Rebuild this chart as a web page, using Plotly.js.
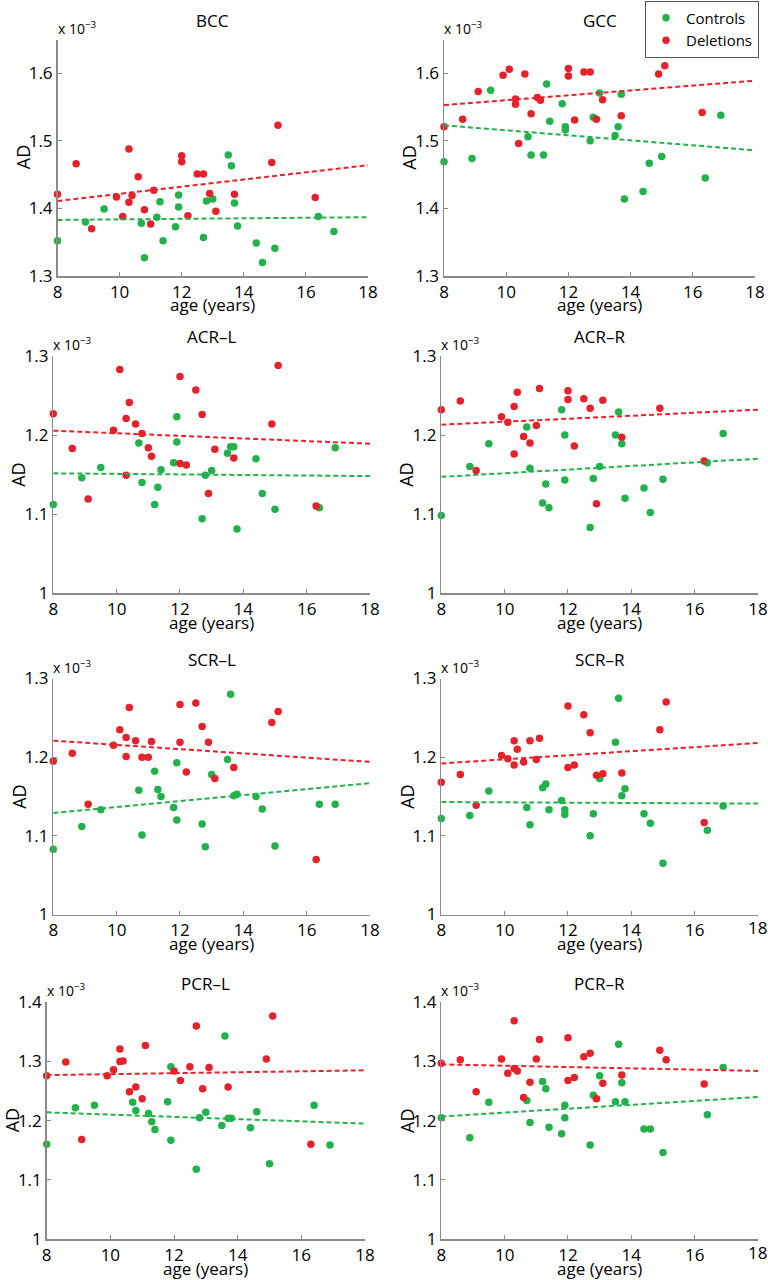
<!DOCTYPE html>
<html>
<head>
<meta charset="utf-8">
<script src="https://cdn.plot.ly/plotly-3.0.1.min.js"></script>
<style>
html,body{margin:0;padding:0;background:#ffffff;}
#chart{width:768px;height:1280px;}
</style>
</head>
<body>
<div id="chart"></div>
<script>
// ---------------- DATA (AD values in units of 10^-3) ----------------
const ctrlAge = [8.0, 8.9, 9.5, 10.7, 10.8, 11.2, 11.3, 11.4, 11.8, 11.9, 11.9, 12.7, 12.8, 13.0, 13.5, 13.6, 13.7, 13.8, 14.4, 14.6, 15.0, 16.4, 16.9];
const delAge  = [8.0, 8.6, 9.1, 9.9, 10.1, 10.3, 10.3, 10.4, 10.6, 10.8, 11.0, 11.1, 12.0, 12.0, 12.2, 12.5, 12.7, 12.9, 13.1, 13.7, 14.9, 15.1, 16.3];

const panelNames = ['BCC', 'GCC', 'ACR\u2013L', 'ACR\u2013R', 'SCR\u2013L', 'SCR\u2013R', 'PCR\u2013L', 'PCR\u2013R'];

const bccCtrl = [1.352, 1.380, 1.399, 1.378, 1.327, 1.387, 1.410, 1.352, 1.373, 1.420, 1.402, 1.357, 1.411, 1.414, 1.479, 1.463, 1.408, 1.374, 1.349, 1.320, 1.341, 1.388, 1.366];
const bccDel  = [1.421, 1.466, 1.370, 1.417, 1.388, 1.488, 1.409, 1.419, 1.447, 1.398, 1.377, 1.427, 1.478, 1.469, 1.389, 1.451, 1.451, 1.422, 1.396, 1.421, 1.468, 1.523, 1.416];

const gccCtrl = [1.469, 1.474, 1.575, 1.506, 1.479, 1.479, 1.584, 1.529, 1.555, 1.521, 1.516, 1.500, 1.535, 1.571, 1.508, 1.521, 1.569, 1.414, 1.425, 1.467, 1.477, 1.445, 1.538];
const gccDel  = [1.521, 1.532, 1.573, 1.597, 1.606, 1.562, 1.554, 1.496, 1.599, 1.540, 1.564, 1.560, 1.607, 1.596, 1.531, 1.602, 1.602, 1.532, 1.561, 1.537, 1.599, 1.611, 1.542];

const acrLCtrl = [1.112, 1.146, 1.159, 1.190, 1.140, 1.112, 1.134, 1.156, 1.165, 1.223, 1.191, 1.094, 1.149, 1.155, 1.177, 1.185, 1.185, 1.081, 1.170, 1.126, 1.106, 1.108, 1.184];
const acrLDel  = [1.227, 1.183, 1.119, 1.206, 1.283, 1.221, 1.149, 1.241, 1.214, 1.202, 1.184, 1.173, 1.274, 1.164, 1.162, 1.257, 1.226, 1.126, 1.182, 1.171, 1.214, 1.288, 1.110];

const acrRCtrl = [1.098, 1.160, 1.189, 1.210, 1.158, 1.114, 1.138, 1.108, 1.232, 1.200, 1.143, 1.083, 1.145, 1.160, 1.200, 1.229, 1.189, 1.120, 1.133, 1.102, 1.144, 1.165, 1.202];
const acrRDel  = [1.232, 1.243, 1.155, 1.223, 1.216, 1.236, 1.176, 1.254, 1.198, 1.190, 1.212, 1.259, 1.256, 1.245, 1.186, 1.246, 1.234, 1.113, 1.244, 1.197, 1.234, null, 1.167];

const scrLCtrl = [1.083, 1.112, 1.133, 1.158, 1.101, 1.182, 1.159, 1.150, 1.136, 1.193, 1.120, 1.115, 1.086, 1.178, 1.197, 1.280, 1.151, 1.153, 1.150, 1.134, 1.087, 1.140, 1.140];
const scrLDel  = [1.195, 1.205, 1.140, 1.215, 1.235, 1.225, 1.201, 1.263, 1.221, 1.200, 1.200, 1.220, 1.267, 1.219, 1.181, 1.269, 1.239, 1.219, 1.173, 1.187, 1.244, 1.258, 1.070];

const scrRCtrl = [1.122, 1.126, 1.157, 1.136, 1.114, 1.161, 1.166, 1.133, 1.145, 1.133, 1.127, 1.100, 1.128, 1.173, 1.219, 1.275, 1.151, 1.160, 1.128, 1.116, 1.065, 1.107, 1.138];
const scrRDel  = [1.168, 1.178, 1.139, 1.202, 1.198, 1.221, 1.190, 1.210, 1.194, 1.221, 1.197, 1.224, 1.265, 1.187, 1.190, 1.254, 1.231, 1.177, 1.179, 1.180, 1.235, 1.270, 1.117];

const pcrLCtrl = [1.160, 1.222, 1.226, 1.231, 1.217, 1.212, 1.198, 1.185, 1.232, 1.291, 1.167, 1.118, 1.205, 1.214, 1.192, 1.343, 1.204, 1.204, 1.188, 1.215, 1.127, 1.226, 1.159];
const pcrLDel  = [1.276, 1.299, 1.168, 1.276, 1.286, 1.321, 1.300, 1.301, 1.249, 1.257, 1.237, 1.327, 1.284, null, 1.268, 1.291, 1.360, 1.254, 1.290, 1.257, 1.304, 1.377, 1.160];

const pcrRCtrl = [1.205, 1.171, 1.231, 1.234, 1.197, 1.266, 1.254, 1.189, 1.178, 1.226, 1.205, 1.159, 1.243, 1.276, 1.232, 1.329, 1.264, 1.232, 1.186, 1.186, 1.146, 1.210, 1.290];
const pcrRDel  = [1.297, 1.303, 1.249, 1.304, 1.280, 1.369, 1.288, 1.284, 1.239, 1.265, 1.304, 1.337, 1.340, 1.268, 1.273, 1.308, 1.314, 1.237, 1.263, 1.277, 1.319, 1.303, 1.262];

// fitted trend lines, values at age 8 and age 18
const fitAges     = [8, 18];
const ctrlFitAt8  = [1.383, 1.523, 1.1515, 1.147, 1.129, 1.143, 1.214, 1.207];
const ctrlFitAt18 = [1.387, 1.486, 1.148, 1.170, 1.167, 1.141, 1.195, 1.240];
const delFitAt8   = [1.411, 1.553, 1.2055, 1.213, 1.221, 1.192, 1.277, 1.295];
const delFitAt18  = [1.464, 1.589, 1.189, 1.232, 1.194, 1.218, 1.285, 1.284];

const ctrlSeries = [bccCtrl, gccCtrl, acrLCtrl, acrRCtrl, scrLCtrl, scrRCtrl, pcrLCtrl, pcrRCtrl];
const delSeries  = [bccDel, gccDel, acrLDel, acrRDel, scrLDel, scrRDel, pcrLDel, pcrRDel];

const xTicks = [8, 10, 12, 14, 16, 18];
const yTicksA = [1.3, 1.4, 1.5, 1.6];
const yTicksB = [1, 1.1, 1.2, 1.3];
const yTicksC = [1, 1.1, 1.2, 1.3, 1.4];

// ---------------- LAYOUT / STYLE ----------------
const W = 768, H = 1280;
const GREEN = '#22b14c';
const RED = '#e5222b';
const AXIS = '#8a8a8a';
const FONT = 'Open Sans, Liberation Sans, sans-serif';

const yRanges = [[1.3,1.65],[1.3,1.65],[1,1.3],[1,1.3],[1,1.3],[1,1.3],[1,1.4],[1,1.4]];
const yTickSets = [yTicksA, yTicksA, yTicksB, yTicksB, yTicksB, yTicksB, yTicksC, yTicksC];
// pixel boxes [left, right, top, bottom]
const boxes = [
  [57.5, 368, 39.5, 276],
  [444, 755, 39.5, 276],
  [53.3, 370, 356, 593],
  [441.3, 758, 356, 593],
  [53.3, 370, 678.5, 914.5],
  [441.3, 758, 678.5, 914.5],
  [46.7, 365, 1002.3, 1239],
  [441.3, 758, 1002.3, 1239]
];
// panels whose last x tick label the renderer drops; that label is written as text at the axis end instead
const endLabelPanels = [5, 7];

const traces = [];
const layout = {
  width: W, height: H,
  margin: {l: 0, r: 0, t: 0, b: 0},
  paper_bgcolor: '#ffffff',
  plot_bgcolor: 'rgba(0,0,0,0)',
  font: {family: FONT, size: 16, color: '#000'},
  showlegend: true,
  legend: {
    x: 645 / W, y: 1 - 0.5 / H, xanchor: 'left', yanchor: 'top',
    bordercolor: '#555', borderwidth: 1, bgcolor: '#ffffff',
    font: {family: FONT, size: 15, color: '#000'},
    tracegroupgap: 0
  },
  annotations: []
};

panelNames.forEach((name, i) => {
  const n = i + 1;
  const xa = n === 1 ? 'x' : 'x' + n;
  const ya = n === 1 ? 'y' : 'y' + n;
  const b = boxes[i];
  const manualEnd = endLabelPanels.includes(i);
  const lastTick = xTicks[xTicks.length - 1];
  const tv = manualEnd ? xTicks.slice(0, -1) : xTicks;
  layout[n === 1 ? 'xaxis' : 'xaxis' + n] = {
    domain: [b[0] / W, b[1] / W],
    range: [8, 18], tickmode: 'array', tickvals: tv, ticktext: tv.map(String),
    showline: true, linecolor: AXIS, linewidth: 1.5,
    ticks: 'inside', ticklen: 4, tickcolor: AXIS, tickwidth: 1,
    showgrid: false, zeroline: false, mirror: false,
    ticklabeloverflow: 'allow',
    tickfont: {family: FONT, size: 17, color: '#000'},
    anchor: ya, fixedrange: true
  };
  layout[n === 1 ? 'yaxis' : 'yaxis' + n] = {
    domain: [1 - b[3] / H, 1 - b[2] / H],
    range: yRanges[i], tickmode: 'array', tickvals: yTickSets[i], ticktext: yTickSets[i].map(String),
    showline: true, linecolor: AXIS, linewidth: 1.5,
    ticks: 'inside', ticklen: 4, tickcolor: AXIS, tickwidth: 1,
    showgrid: false, zeroline: false, mirror: false,
    tickfont: {family: FONT, size: 17, color: '#000'},
    anchor: xa, fixedrange: true
  };

  traces.push({
    type: 'scatter', mode: 'markers', x: ctrlAge, y: ctrlSeries[i],
    xaxis: xa, yaxis: ya, name: 'Controls', showlegend: i === 0,
    marker: {color: GREEN, size: 7.5, line: {width: 0}}, cliponaxis: false, hoverinfo: 'skip'
  });
  traces.push({
    type: 'scatter', mode: 'markers', x: delAge, y: delSeries[i],
    xaxis: xa, yaxis: ya, name: 'Deletions', showlegend: i === 0,
    marker: {color: RED, size: 7.5, line: {width: 0}}, cliponaxis: false, hoverinfo: 'skip'
  });
  traces.push({
    type: 'scatter', mode: 'lines', x: fitAges, y: [ctrlFitAt8[i], ctrlFitAt18[i]],
    xaxis: xa, yaxis: ya, showlegend: false,
    line: {color: GREEN, width: 2, dash: '5px,3px'}, hoverinfo: 'skip'
  });
  traces.push({
    type: 'scatter', mode: 'lines', x: fitAges, y: [delFitAt8[i], delFitAt18[i]],
    xaxis: xa, yaxis: ya, showlegend: false,
    line: {color: RED, width: 2, dash: '5px,3px'}, hoverinfo: 'skip'
  });

  const xd = xa + ' domain', yd = ya + ' domain';
  layout.annotations.push({
    text: name, xref: xd, yref: yd, x: 0.5, y: 1, xanchor: 'center', yanchor: 'middle',
    yshift: 19, showarrow: false, font: {family: FONT, size: 17, color: '#000'}
  });
  layout.annotations.push({
    text: 'x 10<sup>\u22123</sup>', xref: xd, yref: yd, x: 0, y: 1, xanchor: 'left', yanchor: 'bottom',
    xshift: -2, yshift: 0, showarrow: false, font: {family: FONT, size: 14, color: '#000'}
  });
  layout.annotations.push({
    text: 'AD', xref: xd, yref: yd, x: 0, y: 0.5, xanchor: 'center', yanchor: 'middle',
    xshift: -35, textangle: -90, showarrow: false, font: {family: FONT, size: 18, color: '#000'}
  });
  layout.annotations.push({
    text: 'age (years)', xref: xd, yref: yd, x: 0.5, y: 0, xanchor: 'center', yanchor: 'middle',
    yshift: -29, showarrow: false, font: {family: FONT, size: 17, color: '#000'}
  });
  if (manualEnd) {
    layout.annotations.push({
      text: String(lastTick), xref: xd, yref: yd, x: 1, y: 0, xanchor: 'center', yanchor: 'middle',
      xshift: -1, yshift: -13, showarrow: false, font: {family: FONT, size: 17, color: '#000'}
    });
  }
});

Plotly.newPlot('chart', traces, layout, {staticPlot: true, displayModeBar: false});
</script>
</body>
</html>
